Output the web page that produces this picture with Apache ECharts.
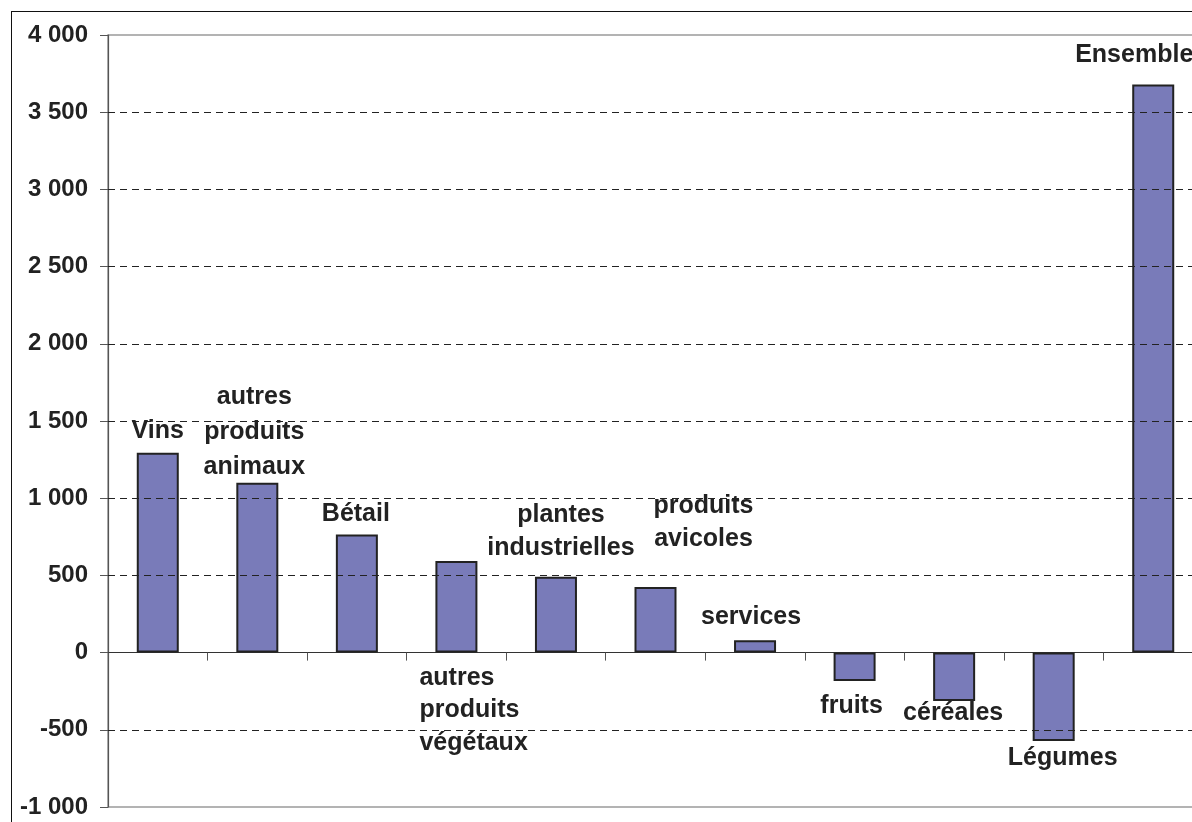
<!DOCTYPE html>
<html>
<head>
<meta charset="utf-8">
<script src="https://cdn.jsdelivr.net/npm/echarts@6/dist/echarts.min.js"></script>
<style>
html,body{margin:0;padding:0;background:#fff;overflow:hidden;width:1192px;height:822px;}
#chart{position:absolute;left:0;top:0;width:1230px;height:822px;}
#frame{position:absolute;left:11px;top:11px;width:1400px;height:1000px;border:1.5px solid #111;box-sizing:border-box;pointer-events:none;}
</style>
</head>
<body>
<div id="chart"></div>
<div id="frame"></div>
<script>
// ---- data ----
const categories = [
  'Vins',
  'autres\nproduits\nanimaux',
  'Bétail',
  'autres\nproduits\nvégétaux',
  'plantes\nindustrielles',
  'produits\navicoles',
  'services',
  'fruits',
  'céréales',
  'Légumes',
  'Ensemble'
];
const values = [1295, 1100, 765, 593, 492, 425, 80, -184, -313, -572, 3679];
const yTicks = [-1000, -500, 0, 500, 1000, 1500, 2000, 2500, 3000, 3500, 4000];

// ---- label styling (placement only) ----
const labelStyles = [
  {position: 'top', offset: [0, -5], lineHeight: 34},
  {position: 'top', offset: [-3, 2], lineHeight: 35},
  {position: 'top', offset: [-1, -3], lineHeight: 34},
  {position: 'bottom', offset: [-37, 9], lineHeight: 32.5, align: 'left'},
  {position: 'top', offset: [5, -12], lineHeight: 33},
  {position: 'top', offset: [48, -31], lineHeight: 33},
  {position: 'top', offset: [-4, -6], lineHeight: 34},
  {position: 'bottom', offset: [-3, 8], lineHeight: 34},
  {position: 'bottom', offset: [-1, -5], lineHeight: 34},
  {position: 'bottom', offset: [9, 0], lineHeight: 34},
  {position: 'top', offset: [-19, -12], lineHeight: 34}
];

const FONT = 'Arial, "Liberation Sans", Helvetica, sans-serif';

function fmt(v) {
  const s = Math.abs(v).toString().replace(/\B(?=(\d{3})+(?!\d))/g, ' ');
  return (v < 0 ? '-' : '') + s;
}

const seriesData = values.map((v, i) => {
  const ls = labelStyles[i];
  return {
    value: v,
    label: {
      position: ls.position,
      distance: 0,
      offset: ls.offset,
      lineHeight: ls.lineHeight,
      align: ls.align || 'center'
    }
  };
});

const gridLines = yTicks.filter(t => t !== 0 && t !== yTicks[0] && t !== yTicks[yTicks.length - 1]);

const chart = echarts.init(document.getElementById('chart'), null, {renderer: 'canvas'});
chart.setOption({
  animation: false,
  backgroundColor: '#fff',
  grid: {
    left: 108, top: 35, width: 1095, height: 772,
    show: true, borderColor: '#9a9a9a', borderWidth: 1.5, backgroundColor: 'transparent'
  },
  xAxis: {
    type: 'category',
    data: categories,
    boundaryGap: true,
    axisLine: {show: true, onZero: true, lineStyle: {color: '#333', width: 1.2}},
    axisTick: {show: true, inside: false, length: 8, lineStyle: {color: '#555', width: 1}},
    axisLabel: {show: false},
    splitLine: {show: false}
  },
  yAxis: {
    type: 'value',
    min: yTicks[0],
    max: yTicks[yTicks.length - 1],
    interval: 500,
    axisLine: {show: true, lineStyle: {color: '#555', width: 1.2}},
    axisTick: {show: true, inside: false, length: 8, lineStyle: {color: '#555', width: 1}},
    axisLabel: {
      formatter: fmt, color: '#222', fontSize: 24, fontWeight: 'bold',
      fontFamily: FONT, margin: 20
    },
    splitLine: {show: false}
  },
  series: [{
    type: 'bar',
    data: seriesData,
    barWidth: 42,
    itemStyle: {color: '#797bb9', borderColor: '#222', borderWidth: 2},
    label: {
      show: true,
      formatter: '{b}',
      color: '#222',
      fontSize: 25,
      fontWeight: 'bold',
      fontFamily: FONT
    },
    markLine: {
      silent: true,
      symbol: ['none', 'none'],
      label: {show: false},
      lineStyle: {type: [7, 5], color: '#222', width: 1},
      data: gridLines.map(t => ({yAxis: t}))
    },
    z: 3
  }]
});
</script>
</body>
</html>
